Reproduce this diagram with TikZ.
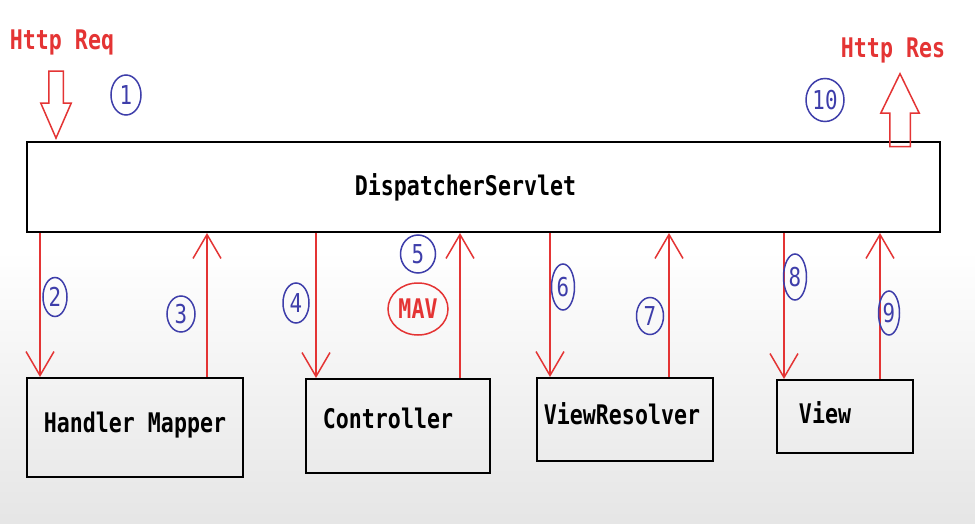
\documentclass[tikz,border=0pt]{standalone}
\usepackage{fontspec}
\newfontfamily\codefont{DejaVu Sans Mono}[FakeStretch=0.8]
\usetikzlibrary{%
  arrows.meta,%
  shapes.arrows,%
  shapes.geometric,% wg. ellipse
  positioning%
}
\definecolor{penred}{RGB}{228,52,52}
\definecolor{penblue}{RGB}{62,62,170}

\begin{document}
\begin{tikzpicture}
  [
  x=1pt, y=-1pt, font=\codefont\bfseries\fontsize{27}{30}\selectfont,
  box/.style={rectangle, draw=black, line width=2pt, inner sep=0pt},
  call/.style={draw=penred, line width=1.5pt, -{Straight Barb[length=24pt, width=28pt, line width=1.5pt]}},
  num/.style={ellipse, draw=penblue, text=penblue, line width=1.5pt, inner sep=0pt, font=\codefont\fontsize{26}{26}\selectfont},
  mav/.style={ellipse, draw=penred, text=penred, line width=1.5pt, inner sep=0pt, minimum width=60pt, minimum height=52pt},
  http/.style={text=penred},
  bigarrow/.style={single arrow, draw=penred, line width=1.5pt, inner xsep=0pt, single arrow head indent=0pt, anchor=tip}
  ]

\useasboundingbox (0,0) rectangle (975,524);
\fill[white] (0,0) rectangle (975,250);
\shade[top color=white, bottom color=black!10] (0,250) rectangle (975,524);

\node[box, minimum width=913pt, minimum height=90pt, label={[xshift=-18pt]center:DispatcherServlet}] (ds) at (483.5,187) {};

\node[box, minimum width=216pt, minimum height=99pt, label={[yshift=2pt]center:Handler Mapper}] (hm) at (135,427.5) {};
\node[box, minimum width=184pt, minimum height=94pt, label={[xshift=-10pt, yshift=8pt]center:Controller}] (ctl) at (398,426) {};
\node[box, minimum width=176pt, minimum height=83pt, label={[xshift=-3pt, yshift=6pt]center:ViewResolver}] (vr) at (625,419.5) {};
\node[box, minimum width=136pt, minimum height=73pt, label={[xshift=-20pt, yshift=4pt]center:View}] (vw) at (845,416.5) {};

\foreach \x/\b in {40/hm, 316/ctl, 550/vr, 784/vw} {
  \draw[call] (ds.south -| \x,0) -- (\b.north -| \x,0);
}
\foreach \x/\b in {207/hm, 460/ctl, 669/vr, 880/vw} {
  \draw[call] (\b.north -| \x,0) -- (ds.south -| \x,0);
}

\foreach \n/\p/\w/\h in {1/{126,95}/30/40, 2/{55,297}/24/39, 3/{181,314}/28/36,
  4/{296,303}/26/40, 5/{418,254}/35/38, 6/{563,287}/23/46, 7/{650,316}/27/37,
  8/{795,277}/23/46, 9/{889,313}/21/44, 10/{825,100}/38/43} {
  \node[num, minimum width=\w pt, minimum height=\h pt] (n\n) at (\p) {\n};
}

\node[mav] (mav) at (418,309) {MAV};

\node[http] (req) at (62,42) {Http Req};
\node[http] (res) at (893,50) {Http Res};

\node[bigarrow, rotate=-90, minimum height=67pt, inner ysep=6.5pt, minimum width=29pt,
  single arrow head extend=8pt, single arrow tip angle=47] (reqarrow) at (56,140) {};
\node[bigarrow, rotate=90, minimum height=73pt, inner ysep=9.5pt, minimum width=37pt,
  single arrow head extend=9pt, single arrow tip angle=52] (resarrow) at (900,72) {};
\end{tikzpicture}
\end{document}
